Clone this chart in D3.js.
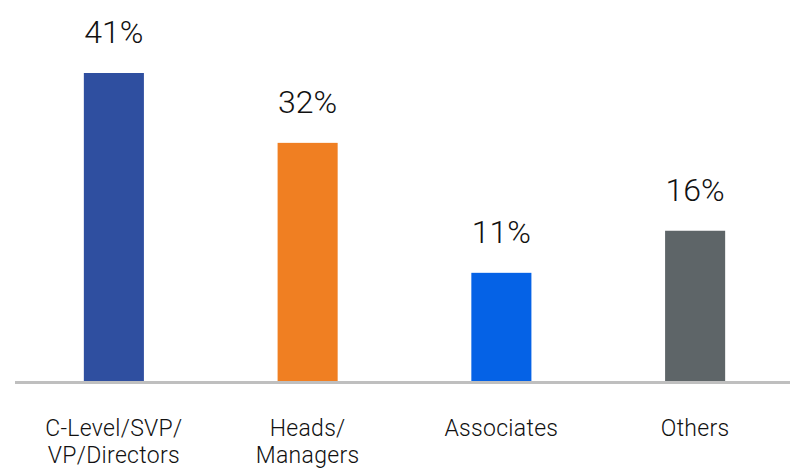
<!DOCTYPE html>
<html>
<head>
<meta charset="utf-8">
<script src="https://cdn.jsdelivr.net/npm/d3@7"></script>
<style>
  html, body { margin: 0; padding: 0; background: #ffffff; }
  svg { display: block; }
</style>
</head>
<body>
<svg id="chart" width="803" height="473"></svg>
<script>
// Data
const categories = [["C-Level/SVP/", "VP/Directors"], ["Heads/", "Managers"], ["Associates"], ["Others"]];
const labelValues = [41, 32, 11, 16];          // printed percentages
const barValues = [41, 31.7, 14.4, 20];        // bar heights as drawn in the reference (%)
const colors = ["#2F4FA0", "#F07F22", "#0562E6", "#5E6568"];

const W = 803, H = 473;
const svg = d3.select("#chart");

const x = d3.scaleBand()
  .domain(d3.range(categories.length))
  .range([17, 792])
  .paddingInner(0.69)
  .paddingOuter(0.345);

const y = d3.scaleLinear().domain([0, 41]).range([381, 73]);

// Bars
svg.selectAll("rect.bar")
  .data(barValues)
  .join("rect")
  .attr("class", "bar")
  .attr("x", (d, i) => x(i))
  .attr("y", d => y(d))
  .attr("width", x.bandwidth())
  .attr("height", d => y(0) - y(d))
  .attr("fill", (d, i) => colors[i]);

// Baseline
svg.append("line")
  .attr("x1", 15).attr("x2", 790)
  .attr("y1", 382.5).attr("y2", 382.5)
  .attr("stroke", "#bfbfbf")
  .attr("stroke-width", 3);

// Value labels
svg.selectAll("text.val")
  .data(labelValues)
  .join("text")
  .attr("class", "val")
  .attr("x", (d, i) => x(i) + x.bandwidth() / 2)
  .attr("y", (d, i) => y(barValues[i]) - 30)
  .attr("text-anchor", "middle")
  .attr("font-family", "Roboto, sans-serif")
  .attr("font-weight", 300)
  .attr("font-size", 32)
  .attr("fill", "#111")
  .text(d => d + "%");

// Category labels
const cat = svg.selectAll("text.cat")
  .data(categories)
  .join("text")
  .attr("class", "cat")
  .attr("x", (d, i) => x(i) + x.bandwidth() / 2)
  .attr("y", 436)
  .attr("text-anchor", "middle")
  .attr("font-family", "Roboto, sans-serif")
  .attr("font-weight", 300)
  .attr("font-size", 23)
  .attr("letter-spacing", 0.3)
  .attr("fill", "#111");

cat.selectAll("tspan")
  .data((d, i) => d.map(t => ({ t, i })))
  .join("tspan")
  .attr("x", d => x(d.i) + x.bandwidth() / 2)
  .attr("dy", (d, j) => j === 0 ? 0 : 27)
  .text(d => d.t);
</script>
</body>
</html>
